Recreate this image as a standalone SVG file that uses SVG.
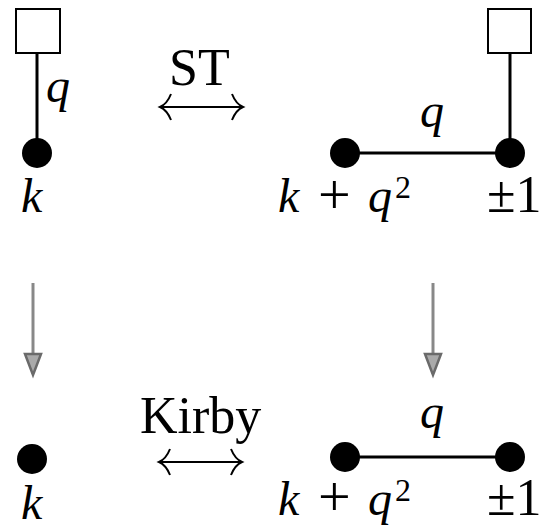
<svg xmlns="http://www.w3.org/2000/svg" width="549" height="529" viewBox="0 0 549 529">
<style>
.t{font-family:"Liberation Serif","Times New Roman",serif;font-size:52px;fill:#000}
.m{font-family:"Liberation Serif","Times New Roman",serif;font-size:48px;font-style:italic;fill:#000}
.r{font-family:"Liberation Serif","Times New Roman",serif;font-size:52px;fill:#000}
.p{font-family:"Liberation Serif","Times New Roman",serif;font-size:58px;fill:#000}
.s{font-family:"Liberation Serif","Times New Roman",serif;font-size:32px;fill:#000}
.edge{stroke:#000;stroke-width:3;fill:none}
.box{fill:#fff;stroke:#000;stroke-width:2}
.dot{fill:#000}
.lr{stroke:#000;stroke-width:2;fill:none}
.down{stroke:#888;stroke-width:3;fill:none}
.head{fill:#aaa;stroke:#6a6a6a;stroke-width:2.5;stroke-linejoin:miter}
</style>
<rect width="549" height="529" fill="#fff"/>
<g id="connectors">
  <line class="edge" x1="37" y1="53" x2="37" y2="153"/>
  <line class="edge" x1="510" y1="53" x2="510" y2="153"/>
  <line class="edge" x1="345" y1="153" x2="510" y2="153"/>
  <line class="edge" x1="345" y1="457" x2="510" y2="457"/>
  <g id="st-arrow">
    <line class="lr" x1="160" y1="107" x2="243" y2="107"/>
    <path class="lr" d="M171,94 Q167,104 160,107 Q167,110 171,120"/>
    <path class="lr" d="M232,94 Q236,104 243,107 Q236,110 232,120"/>
  </g>
  <g id="kirby-arrow">
    <line class="lr" x1="159" y1="462" x2="242" y2="462"/>
    <path class="lr" d="M170,449 Q166,459 159,462 Q166,465 170,475"/>
    <path class="lr" d="M231,449 Q235,459 242,462 Q235,465 231,475"/>
  </g>
  <g id="down-left">
    <line class="down" x1="33" y1="283" x2="33" y2="356"/>
    <polygon class="head" points="25,354 41,354 33,375"/>
  </g>
  <g id="down-right">
    <line class="down" x1="433" y1="283" x2="433" y2="356"/>
    <polygon class="head" points="425,354 441,354 433,375"/>
  </g>
</g>
<g id="box-left"><rect class="box" x="16" y="9" width="44" height="44"/></g>
<g id="box-right"><rect class="box" x="488" y="9" width="43" height="44"/></g>
<g id="node-tl"><circle class="dot" cx="37" cy="153" r="15"/><text class="m" x="21" y="212">k</text></g>
<g id="node-tr1"><circle class="dot" cx="345" cy="153" r="15"/><text class="m" x="278" y="212">k</text><text class="p" x="318" y="214">+</text><text class="m" x="368" y="212">q</text><text class="s" x="395" y="198">2</text></g>
<g id="node-tr2"><circle class="dot" cx="510" cy="153" r="15"/><text class="r" x="487" y="212">±1</text></g>
<g id="node-bl"><circle class="dot" cx="32" cy="459" r="15"/><text class="m" x="21" y="519">k</text></g>
<g id="node-br1"><circle class="dot" cx="345" cy="457" r="15"/><text class="m" x="278" y="515">k</text><text class="p" x="318" y="516">+</text><text class="m" x="368" y="515">q</text><text class="s" x="395" y="501">2</text></g>
<g id="node-br2"><circle class="dot" cx="510" cy="457" r="15"/><text class="r" x="487" y="515">±1</text></g>
<g id="labels">
  <text class="m" x="46" y="102">q</text>
  <text class="m" x="420" y="127">q</text>
  <text class="m" x="420" y="428">q</text>
  <text class="t" x="169" y="85">ST</text>
  <text class="t" x="140" y="433">Kirby</text>
</g>
</svg>
